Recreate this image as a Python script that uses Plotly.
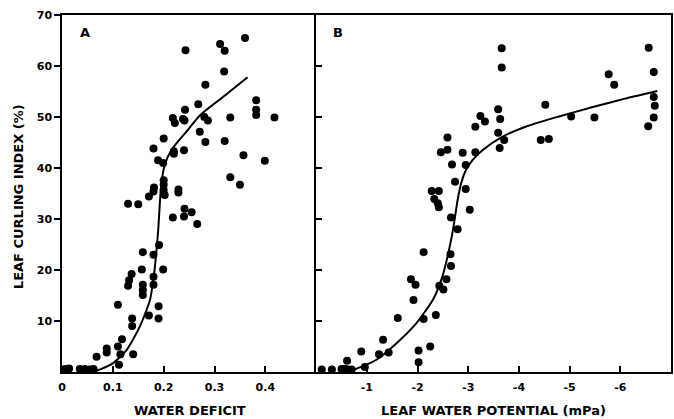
import plotly.graph_objects as go

# Panel A: leaf curling index vs. water deficit
deficit = [0.243, 0.311, 0.320, 0.360, 0.319, 0.282, 0.268, 0.382, 0.382, 0.382,
           0.418, 0.331, 0.280, 0.287, 0.242, 0.218, 0.222, 0.238, 0.241, 0.271,
           0.282, 0.320, 0.200, 0.180, 0.220, 0.220, 0.240, 0.357, 0.189, 0.199,
           0.399, 0.331, 0.350, 0.200, 0.200, 0.200, 0.202, 0.181, 0.180, 0.229,
           0.229, 0.171, 0.130, 0.150, 0.241, 0.255, 0.218, 0.240, 0.266, 0.191,
           0.159, 0.180, 0.157, 0.199, 0.137, 0.132, 0.130, 0.159, 0.159, 0.159,
           0.180, 0.180, 0.110, 0.190, 0.171, 0.190, 0.138, 0.138, 0.118, 0.110,
           0.115, 0.140, 0.088, 0.088, 0.068, 0.112, 0.006, 0.014, 0.035, 0.045,
           0.055, 0.062]
curl_a = [63.1, 64.3, 63.0, 65.5, 58.9, 56.3, 52.5, 53.3, 51.4, 50.4,
          49.9, 49.9, 50.0, 49.3, 51.4, 49.8, 48.8, 49.6, 49.3, 47.1,
          45.1, 45.3, 45.8, 43.8, 43.3, 42.8, 43.5, 42.5, 41.5, 41.0,
          41.4, 38.2, 36.7, 37.6, 36.7, 35.7, 34.7, 36.2, 35.4, 35.8,
          35.2, 34.4, 33.0, 32.9, 32.0, 31.3, 30.3, 30.5, 29.0, 24.9,
          23.5, 23.0, 20.1, 20.1, 19.2, 18.0, 16.9, 17.1, 16.1, 15.1,
          18.7, 17.1, 13.2, 12.9, 11.1, 10.5, 10.5, 9.0, 6.4, 5.0,
          3.5, 3.5, 4.6, 3.8, 3.0, 1.4, 0.6, 0.7, 0.6, 0.6,
          0.5, 0.6]

# fitted response curve, panel A
fit_a_x = [0.062, 0.080, 0.100, 0.127, 0.153, 0.173, 0.182, 0.189, 0.195, 0.202,
           0.215, 0.235, 0.248, 0.271, 0.323, 0.365]
fit_a_y = [0.0, 0.7, 1.7, 4.3, 8.9, 14.1, 20.0, 27.5, 36.5, 40.6,
           43.5, 46.0, 47.5, 50.3, 54.4, 57.8]

# Panel B: leaf curling index vs. leaf water potential
potential = [-0.11, -0.31, -0.50, -0.57, -0.63, -0.70, -0.61, -0.96, -0.89, -1.24,
             -1.43, -1.32, -1.61, -2.02, -2.02, -2.25, -2.12, -2.36, -1.92, -2.12,
             -1.87, -1.96, -2.43, -2.51, -2.57, -2.66, -2.65, -2.79, -2.66, -3.03,
             -2.33, -2.40, -2.42, -2.28, -2.42, -2.95, -2.74, -2.68, -2.95, -2.46,
             -2.59, -2.89, -3.14, -2.59, -3.14, -3.24, -3.33, -3.59, -3.63, -3.59,
             -3.71, -3.62, -3.66, -3.66, -4.52, -4.43, -4.59, -5.03, -5.49, -5.77,
             -5.88, -6.56, -6.66, -6.66, -6.68, -6.66, -6.55]
curl_b = [0.5, 0.5, 0.6, 0.6, 0.5, 0.5, 2.2, 1.0, 4.0, 3.5,
          3.8, 6.3, 10.6, 4.2, 1.9, 5.0, 10.4, 11.2, 14.1, 23.5,
          18.2, 17.1, 16.9, 16.2, 18.2, 20.8, 23.1, 28.0, 30.3, 31.8,
          33.9, 33.1, 32.3, 35.5, 35.5, 35.9, 37.3, 40.7, 40.6, 43.1,
          43.6, 43.0, 43.1, 46.0, 48.1, 50.2, 49.1, 51.5, 49.6, 46.9,
          45.5, 43.9, 63.5, 59.7, 52.4, 45.5, 45.7, 50.1, 49.9, 58.4,
          56.3, 63.6, 58.8, 53.9, 52.2, 49.9, 48.2]

# fitted response curve, panel B
fit_b_x = [-0.60, -0.73, -1.19, -1.58, -1.97, -2.30, -2.49, -2.62, -2.71, -2.79,
           -2.86, -2.95, -3.08, -3.28, -3.67, -4.13, -4.79, -5.44, -6.09, -6.73]
fit_b_y = [0.0, 0.4, 2.4, 5.6, 9.5, 14.1, 18.7, 23.9, 28.5, 33.7,
           37.0, 39.5, 41.5, 43.5, 46.1, 48.1, 50.1, 51.9, 53.6, 55.1]

deficit_ticks = [0, 0.1, 0.2, 0.3, 0.4]
deficit_labels = ["0", "0.1", "0.2", "0.3", "0.4"]
potential_ticks = [-1, -2, -3, -4, -5, -6, -7]
potential_labels = ["-1", "-2", "-3", "-4", "-5", "-6", "-7"]
curl_ticks = [10, 20, 30, 40, 50, 60, 70]

FONT = "DejaVu Sans"
tick_font = dict(family=FONT, size=11, color="black", weight="bold")
title_font = dict(family=FONT, size=13, color="black", weight="bold")

fig = go.Figure()
marker = dict(color="black", size=8, line=dict(width=0))
line = dict(color="black", width=2, shape="spline", smoothing=0.6)

fig.add_trace(go.Scatter(x=deficit, y=curl_a, mode="markers", marker=marker,
                         xaxis="x", yaxis="y", showlegend=False))
fig.add_trace(go.Scatter(x=fit_a_x, y=fit_a_y, mode="lines", line=line,
                         xaxis="x", yaxis="y", showlegend=False))
fig.add_trace(go.Scatter(x=potential, y=curl_b, mode="markers", marker=marker,
                         xaxis="x2", yaxis="y2", showlegend=False))
fig.add_trace(go.Scatter(x=fit_b_x, y=fit_b_y, mode="lines", line=line,
                         xaxis="x2", yaxis="y2", showlegend=False))

split = 255 / 611
axis_common = dict(showgrid=False, zeroline=False, showline=True, linecolor="black",
                   linewidth=1.5, tickcolor="black", tickwidth=1.5, tickfont=tick_font)

fig.update_layout(
    width=674, height=419,
    margin=dict(l=62, r=1, t=15, b=47),
    paper_bgcolor="white", plot_bgcolor="white",
    xaxis=dict(domain=[0, split], range=[0, 0.5], anchor="y",
               tickvals=deficit_ticks, ticktext=deficit_labels,
               ticks="inside", ticklen=6, mirror=True, ticklabelstandoff=4,
               **axis_common),
    yaxis=dict(range=[0, 70], anchor="x", tickvals=curl_ticks,
               ticks="outside", ticklen=6, **axis_common),
    xaxis2=dict(domain=[split, 1], range=[0, -7], anchor="y2",
                tickvals=potential_ticks, ticktext=potential_labels,
                ticks="inside", ticklen=6, mirror=True, ticklabelstandoff=4,
                **axis_common),
    yaxis2=dict(range=[0, 70], anchor="x2", tickvals=curl_ticks,
                ticks="inside", ticklen=6, showticklabels=False, mirror=True,
                **axis_common),
)

annotations = [
    dict(text="A", x=(85 - 62) / 611, y=(372 - 32) / 357),
    dict(text="B", x=(339 - 62) / 611, y=(372 - 32) / 357),
    dict(text="WATER DEFICIT", x=(190 - 62) / 611, y=(372 - 410) / 357),
    dict(text="LEAF WATER POTENTIAL (mPa)", x=(495 - 62) / 611, y=(372 - 410) / 357),
    dict(text="LEAF CURLING INDEX (%)", x=(18 - 62) / 611, y=(372 - 197) / 357,
         textangle=-90),
]
for a in annotations:
    fig.add_annotation(xref="paper", yref="paper", showarrow=False,
                       xanchor="center", yanchor="middle", font=title_font, **a)

fig.write_html("out.html")
